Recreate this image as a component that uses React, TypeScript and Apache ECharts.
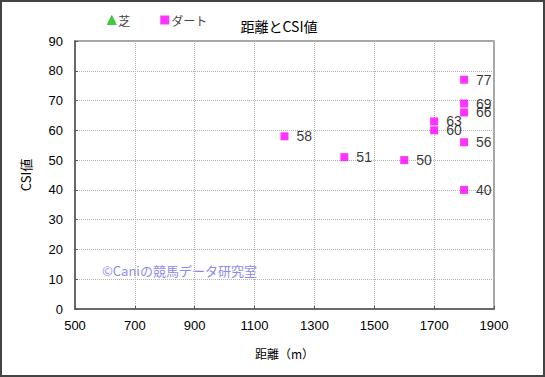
import React, { useEffect, useRef } from "react";
import * as echarts from "echarts";

const turfData: [number, number][] = [];
const dirtDistance = [1200, 1400, 1600, 1700, 1700, 1800, 1800, 1800, 1800, 1800];
const dirtCSI = [58, 51, 50, 63, 60, 77, 69, 66, 56, 40];

const FONT = "'Liberation Sans', 'Noto Sans CJK JP', sans-serif";
const CJK = "'Noto Sans CJK JP', sans-serif";

export default function App() {
  const ref = useRef<HTMLDivElement>(null);
  useEffect(() => {
    document.body.style.margin = "0";
    const chart = echarts.init(ref.current!, null, { renderer: "svg" });
    const dirtData = dirtDistance.map((d, i) => [d, dirtCSI[i]]);
    chart.setOption({
      animation: false,
      backgroundColor: "#ffffff",
      textStyle: { fontFamily: FONT },
      title: {
        text: "距離とCSI値",
        left: 274,
        top: 12,
        textAlign: "center",
        textStyle: { fontSize: 14, fontWeight: "normal", color: "#000", fontFamily: CJK, lineHeight: 18 },
      },
      legend: {
        left: 102,
        top: 9,
        itemWidth: 9,
        itemHeight: 9,
        itemGap: 30,
        textStyle: { fontSize: 12, color: "#444", fontFamily: CJK, padding: [0, 0, 0, -3] },
        data: [
          { name: "芝", icon: "triangle", itemStyle: { color: "#00cc00", borderColor: "#006600", borderWidth: 0.5 } },
          { name: "ダート", icon: "rect", itemStyle: { color: "#ff00ff" } },
        ],
      },
      grid: { left: 75, top: 41, width: 419, height: 268 },
      xAxis: {
        type: "value",
        min: 500,
        max: 1900,
        interval: 200,
        name: "距離（m）",
        nameLocation: "middle",
        nameGap: 38,
        nameTextStyle: { fontSize: 12, color: "#000", fontFamily: CJK },
        axisLine: { lineStyle: { color: "#555", width: 1.5 } },
        axisTick: { show: true, inside: true, length: 3, lineStyle: { color: "#555" } },
        axisLabel: { fontSize: 13, color: "#000", margin: 10, fontFamily: FONT, formatter: (v: number) => String(v) },
        splitLine: { show: true, lineStyle: { color: "#b0b0b0", type: [1, 1], width: 1 } },
      },
      yAxis: {
        type: "value",
        min: 0,
        max: 90,
        interval: 10,
        name: "CSI値",
        nameLocation: "middle",
        nameGap: 43,
        nameRotate: 90,
        nameTextStyle: { fontSize: 13, color: "#000", fontFamily: CJK },
        axisLine: { show: true, lineStyle: { color: "#555", width: 1.5 } },
        axisTick: { show: true, inside: true, length: 3, lineStyle: { color: "#555" } },
        axisLabel: { fontSize: 13, color: "#000", margin: 12, fontFamily: FONT, formatter: (v: number) => String(v) },
        splitLine: { show: true, lineStyle: { color: "#b0b0b0", type: [1, 1], width: 1 } },
      },
      graphic: [
        {
          type: "rect",
          shape: { x: 75, y: 41, width: 419, height: 268 },
          style: { fill: "none", stroke: "#888", lineWidth: 1.5 },
          silent: true,
        },
        {
          type: "text",
          left: 102,
          top: 264,
          style: { text: "©Caniの競馬データ研究室", fill: "#8a8af0", fontSize: 13, fontFamily: CJK },
          silent: true,
        },
        {
          type: "rect",
          shape: { x: 1, y: 1, width: 543, height: 375 },
          style: { fill: "none", stroke: "#444", lineWidth: 2 },
          silent: true,
        },
      ],
      series: [
        {
          name: "芝",
          type: "scatter",
          symbol: "triangle",
          data: turfData,
          itemStyle: { color: "#00cc00" },
        },
        {
          name: "ダート",
          type: "scatter",
          symbol: "rect",
          symbolSize: 8,
          data: dirtData,
          itemStyle: { color: "#ff00ff" },
          label: {
            show: true,
            position: "right",
            distance: 8,
            fontSize: 14,
            color: "#000",
            fontFamily: FONT,
            formatter: (p: any) => String(p.value[1]),
          },
        },
      ],
    });
    return () => chart.dispose();
  }, []);
  return <div ref={ref} style={{ width: 545, height: 377, position: "absolute", left: 0, top: 0 }} />;
}
